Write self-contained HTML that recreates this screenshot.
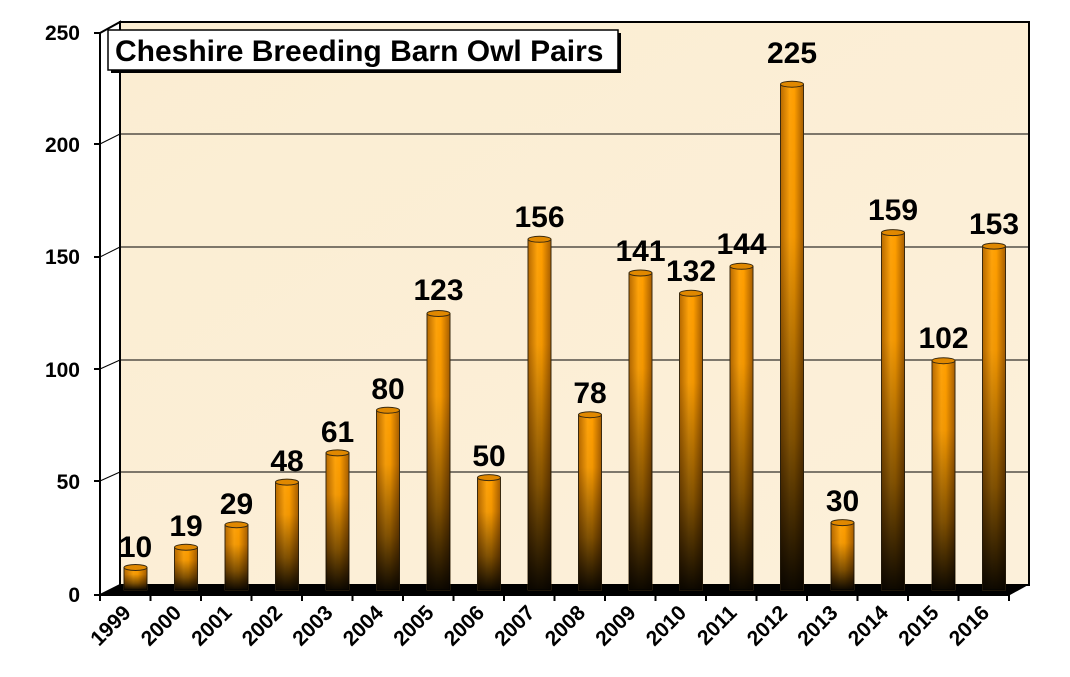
<!DOCTYPE html>
<html><head><meta charset="utf-8"><style>
html,body{margin:0;padding:0;background:#fff;}
svg{display:block;font-family:"Liberation Sans",Arial,sans-serif;font-weight:bold;}
</style></head><body>
<svg width="1070" height="677" viewBox="0 0 1070 677" xmlns="http://www.w3.org/2000/svg">
<defs>
<linearGradient id="wall" x1="0" y1="0" x2="1" y2="1"><stop offset="0" stop-color="#fbedd2"/><stop offset="1" stop-color="#fcf0da"/></linearGradient>
<linearGradient id="h" x1="0" y1="0" x2="1" y2="0"><stop offset="0" stop-color="#b86a00"/><stop offset="0.4" stop-color="#ffa30a"/><stop offset="0.6" stop-color="#ff9e00"/><stop offset="1" stop-color="#a85e00"/></linearGradient>
<linearGradient id="dk" x1="0" y1="0" x2="0" y2="1"><stop offset="0" stop-color="#000" stop-opacity="0"/><stop offset="0.3" stop-color="#000" stop-opacity="0.05"/><stop offset="0.7" stop-color="#000" stop-opacity="0.5"/><stop offset="1" stop-color="#000" stop-opacity="0.95"/></linearGradient>
</defs>
<rect x="120" y="22" width="909" height="563" fill="url(#wall)" stroke="#000" stroke-width="2"/>
<polygon points="100,33 120,22 120,585 100,595" fill="#fff" stroke="#000" stroke-width="2"/>
<g stroke="#000" stroke-width="1">
<line x1="120" y1="134" x2="1029" y2="134"/><line x1="100" y1="144" x2="120" y2="134"/>
<line x1="120" y1="247" x2="1029" y2="247"/><line x1="100" y1="257" x2="120" y2="247"/>
<line x1="120" y1="360" x2="1029" y2="360"/><line x1="100" y1="369" x2="120" y2="360"/>
<line x1="120" y1="472" x2="1029" y2="472"/><line x1="100" y1="481" x2="120" y2="472"/>
</g>
<polygon points="100,595 120,584 1030,584 1010,595" fill="#000"/>
<line x1="100" y1="595" x2="1010" y2="595" stroke="#000" stroke-width="2"/>
<line x1="100" y1="33" x2="100" y2="595" stroke="#000" stroke-width="2"/>
<g stroke="#000" stroke-width="2">
<line x1="94" y1="33" x2="100" y2="33"/><line x1="94" y1="144" x2="100" y2="144"/><line x1="94" y1="257" x2="100" y2="257"/><line x1="94" y1="369" x2="100" y2="369"/><line x1="94" y1="481" x2="100" y2="481"/><line x1="94" y1="595" x2="100" y2="595"/>
<line x1="100" y1="595" x2="100" y2="601"/><line x1="150.5" y1="595" x2="150.5" y2="601"/><line x1="201" y1="595" x2="201" y2="601"/><line x1="251.5" y1="595" x2="251.5" y2="601"/><line x1="302" y1="595" x2="302" y2="601"/><line x1="352.5" y1="595" x2="352.5" y2="601"/><line x1="403" y1="595" x2="403" y2="601"/><line x1="453.5" y1="595" x2="453.5" y2="601"/><line x1="504" y1="595" x2="504" y2="601"/><line x1="554.5" y1="595" x2="554.5" y2="601"/><line x1="605" y1="595" x2="605" y2="601"/><line x1="655.5" y1="595" x2="655.5" y2="601"/><line x1="706" y1="595" x2="706" y2="601"/><line x1="756.5" y1="595" x2="756.5" y2="601"/><line x1="807" y1="595" x2="807" y2="601"/><line x1="857.5" y1="595" x2="857.5" y2="601"/><line x1="908" y1="595" x2="908" y2="601"/><line x1="958.5" y1="595" x2="958.5" y2="601"/><line x1="1009" y1="595" x2="1009" y2="601"/>
</g>
<g font-size="21" text-anchor="end">
<text x="80" y="40">250</text><text x="80" y="152">200</text><text x="80" y="264">150</text><text x="80" y="377">100</text><text x="80" y="489">50</text><text x="80" y="602">0</text>
</g>
<g stroke="#3a2a10" stroke-width="1" fill="url(#h)">
<rect x="124" y="567.5" width="23" height="22.5"/>
<rect x="174.5" y="547.3" width="23" height="42.7"/>
<rect x="225" y="524.8" width="23" height="65.2"/>
<rect x="275.5" y="482.1" width="23" height="107.9"/>
<rect x="326" y="452.9" width="23" height="137.1"/>
<rect x="376.5" y="410.2" width="23" height="179.8"/>
<rect x="427" y="313.5" width="23" height="276.5"/>
<rect x="477.5" y="477.6" width="23" height="112.4"/>
<rect x="528" y="239.3" width="23" height="350.7"/>
<rect x="578.5" y="414.7" width="23" height="175.3"/>
<rect x="629" y="273" width="23" height="317"/>
<rect x="679.5" y="293.3" width="23" height="296.7"/>
<rect x="730" y="266.3" width="23" height="323.7"/>
<rect x="780.5" y="84.2" width="23" height="505.8"/>
<rect x="831" y="522.6" width="23" height="67.4"/>
<rect x="881.5" y="232.6" width="23" height="357.4"/>
<rect x="932" y="360.7" width="23" height="229.3"/>
<rect x="982.5" y="246.1" width="23" height="343.9"/>
</g>
<g fill="url(#dk)">
<rect x="124" y="567.5" width="23" height="22.5"/><rect x="174.5" y="547.3" width="23" height="42.7"/><rect x="225" y="524.8" width="23" height="65.2"/><rect x="275.5" y="482.1" width="23" height="107.9"/><rect x="326" y="452.9" width="23" height="137.1"/><rect x="376.5" y="410.2" width="23" height="179.8"/><rect x="427" y="313.5" width="23" height="276.5"/><rect x="477.5" y="477.6" width="23" height="112.4"/><rect x="528" y="239.3" width="23" height="350.7"/><rect x="578.5" y="414.7" width="23" height="175.3"/><rect x="629" y="273" width="23" height="317"/><rect x="679.5" y="293.3" width="23" height="296.7"/><rect x="730" y="266.3" width="23" height="323.7"/><rect x="780.5" y="84.2" width="23" height="505.8"/><rect x="831" y="522.6" width="23" height="67.4"/><rect x="881.5" y="232.6" width="23" height="357.4"/><rect x="932" y="360.7" width="23" height="229.3"/><rect x="982.5" y="246.1" width="23" height="343.9"/>
</g>
<g fill="#e08800" stroke="#3a2a10" stroke-width="1">
<ellipse cx="135.5" cy="567.5" rx="11.5" ry="3"/><ellipse cx="186" cy="547.3" rx="11.5" ry="3"/><ellipse cx="236.5" cy="524.8" rx="11.5" ry="3"/><ellipse cx="287" cy="482.1" rx="11.5" ry="3"/><ellipse cx="337.5" cy="452.9" rx="11.5" ry="3"/><ellipse cx="388" cy="410.2" rx="11.5" ry="3"/><ellipse cx="438.5" cy="313.5" rx="11.5" ry="3"/><ellipse cx="489" cy="477.6" rx="11.5" ry="3"/><ellipse cx="539.5" cy="239.3" rx="11.5" ry="3"/><ellipse cx="590" cy="414.7" rx="11.5" ry="3"/><ellipse cx="640.5" cy="273" rx="11.5" ry="3"/><ellipse cx="691" cy="293.3" rx="11.5" ry="3"/><ellipse cx="741.5" cy="266.3" rx="11.5" ry="3"/><ellipse cx="792" cy="84.2" rx="11.5" ry="3"/><ellipse cx="842.5" cy="522.6" rx="11.5" ry="3"/><ellipse cx="893" cy="232.6" rx="11.5" ry="3"/><ellipse cx="943.5" cy="360.7" rx="11.5" ry="3"/><ellipse cx="994" cy="246.1" rx="11.5" ry="3"/>
</g>
<g font-size="30" text-anchor="middle">
<text x="135.5" y="557">10</text><text x="186" y="536">19</text><text x="236.5" y="514">29</text><text x="287" y="471">48</text><text x="337.5" y="442">61</text><text x="388" y="399">80</text><text x="438.5" y="300">123</text><text x="489" y="466">50</text><text x="539.5" y="227">156</text><text x="590" y="403">78</text><text x="640.5" y="261">141</text><text x="691" y="281">132</text><text x="741.5" y="254">144</text><text x="792" y="63">225</text><text x="842.5" y="511">30</text><text x="893" y="220">159</text><text x="943.5" y="348">102</text><text x="994" y="234">153</text>
</g>
<g font-size="21" text-anchor="end">
<text transform="translate(132,614) rotate(-45)">1999</text>
<text transform="translate(182.5,614) rotate(-45)">2000</text>
<text transform="translate(233,614) rotate(-45)">2001</text>
<text transform="translate(283.5,614) rotate(-45)">2002</text>
<text transform="translate(334,614) rotate(-45)">2003</text>
<text transform="translate(384.5,614) rotate(-45)">2004</text>
<text transform="translate(435,614) rotate(-45)">2005</text>
<text transform="translate(485.5,614) rotate(-45)">2006</text>
<text transform="translate(536,614) rotate(-45)">2007</text>
<text transform="translate(586.5,614) rotate(-45)">2008</text>
<text transform="translate(637,614) rotate(-45)">2009</text>
<text transform="translate(687.5,614) rotate(-45)">2010</text>
<text transform="translate(738,614) rotate(-45)">2011</text>
<text transform="translate(788.5,614) rotate(-45)">2012</text>
<text transform="translate(839,614) rotate(-45)">2013</text>
<text transform="translate(889.5,614) rotate(-45)">2014</text>
<text transform="translate(940,614) rotate(-45)">2015</text>
<text transform="translate(990.5,614) rotate(-45)">2016</text>
</g>
<rect x="111" y="33" width="510" height="40" fill="#000"/>
<rect x="108" y="30" width="510" height="40" fill="#fff" stroke="#000" stroke-width="1.5"/>
<text x="115" y="61" font-size="30">Cheshire Breeding Barn Owl Pairs</text>
</svg>
</body></html>
